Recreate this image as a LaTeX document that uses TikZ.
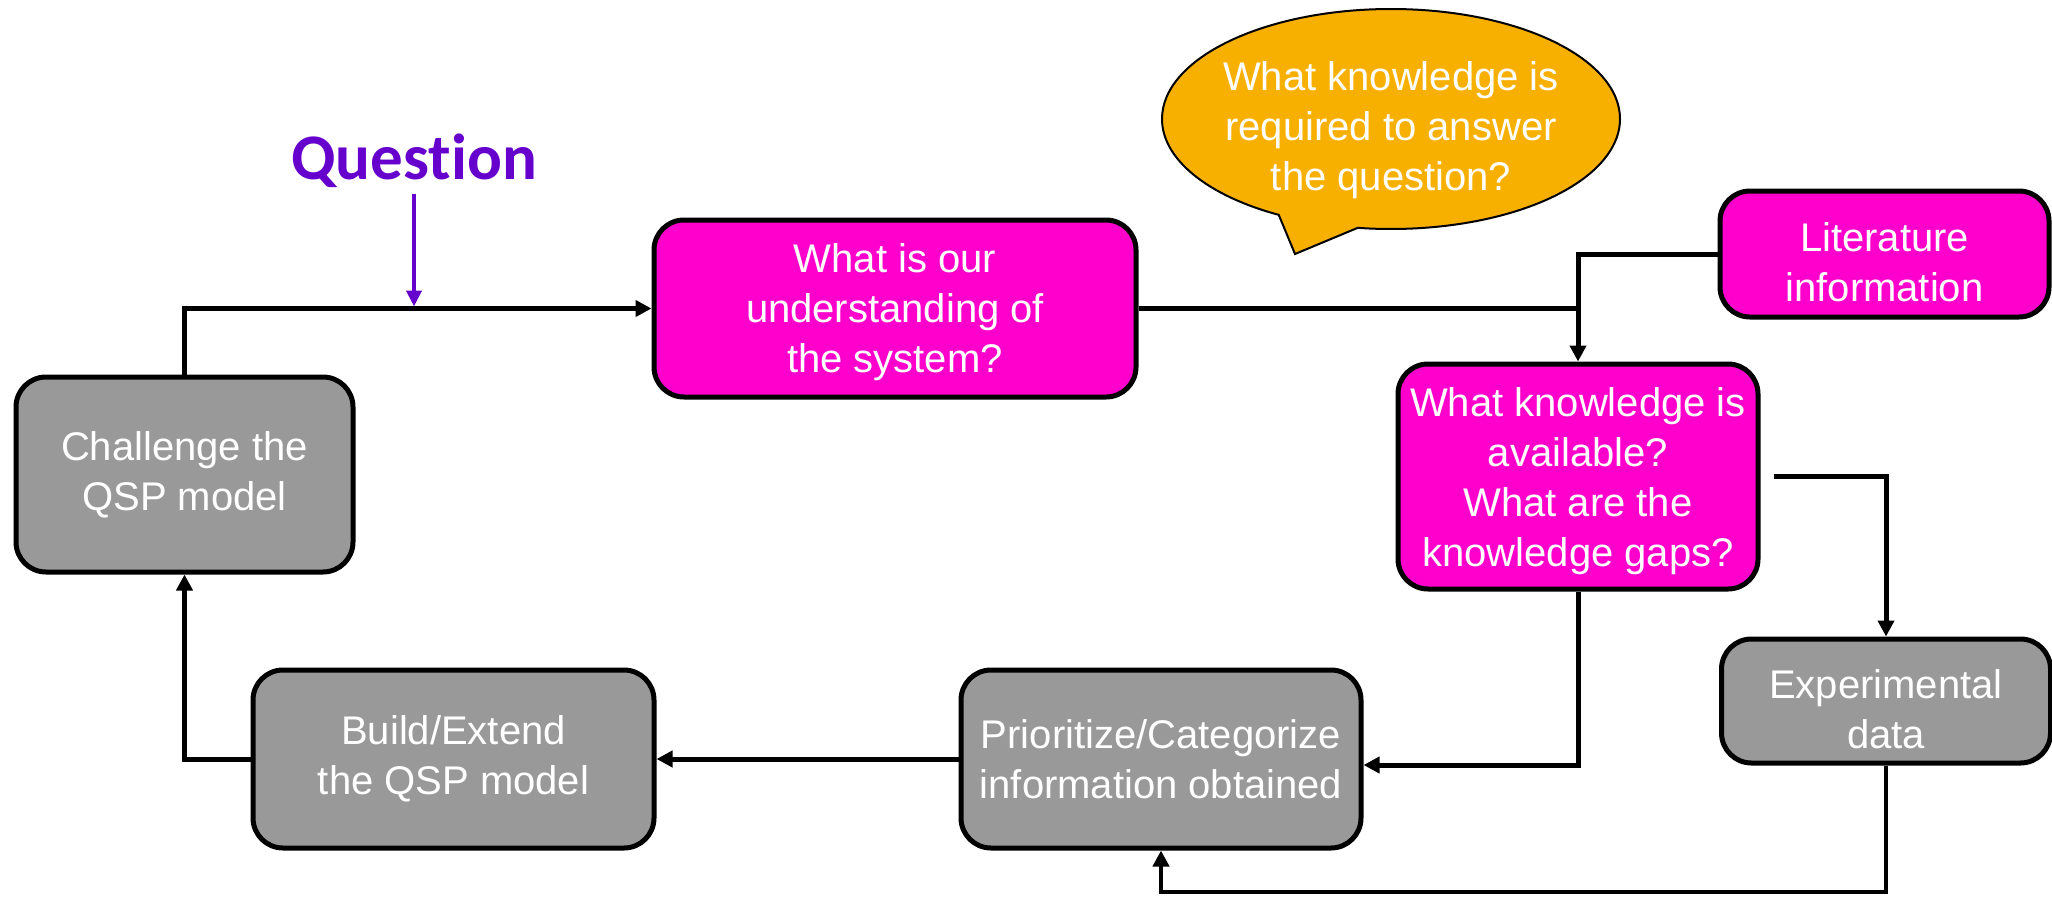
\documentclass[tikz,border=0pt]{standalone}
\usepackage{fontspec}
\setmainfont{Liberation Sans}
\newfontfamily\qfont[Ligatures={NoCommon,NoContextual}]{Carlito}
\usetikzlibrary{arrows.meta,shapes.callouts}
\definecolor{boxmagenta}{HTML}{FF00CC}
\definecolor{boxgray}{HTML}{999999}
\definecolor{bubble}{HTML}{F8B000}
\definecolor{qpurple}{HTML}{6600CC}
\begin{document}
\begin{tikzpicture}[x=1pt,y=-1pt,
  box/.style={draw=black, line width=5pt, rounded corners=30pt, inner sep=0pt},
  magbox/.style={box, fill=boxmagenta},
  graybox/.style={box, fill=boxgray},
  boxtext/.style={text=white, align=center, font=\fontsize{40}{50}\selectfont, inner sep=0pt},
  conn/.style={line width=5pt, draw=black},
  arr/.style={conn, -{Triangle[length=16pt,width=16pt]}},
  qarr/.style={line width=4pt, draw=qpurple, -{Triangle[length=16pt,width=15pt]}},
]
\useasboundingbox (0,0) rectangle (2052,897);

% process boxes
\node[graybox, minimum width=337pt, minimum height=195pt] (chal) at (184.5,474.5) {};
\node[magbox, minimum width=482pt, minimum height=177pt] (what) at (895,308.5) {};
\node[magbox, minimum width=329pt, minimum height=126pt] (lit) at (1884.5,254) {};
\node[magbox, minimum width=360pt, minimum height=225pt] (know) at (1578,476.5) {};
\node[graybox, minimum width=329pt, minimum height=124pt] (exp) at (1886,701) {};
\node[graybox, minimum width=400pt, minimum height=178pt] (prio) at (1161,759) {};
\node[graybox, minimum width=401pt, minimum height=178pt] (build) at (453.5,759) {};

% box captions
\node[boxtext] (chal-t) at (chal) {Challenge the\\QSP model};
\node[boxtext] (what-t) at ([yshift=-4pt]what.center) {What is our\\understanding of\\the system?};
\node[boxtext] (lit-t) at ([yshift=-8pt]lit.center) {Literature\\information};
\node[boxtext] (know-t) at ([yshift=-5pt]know.center) {What knowledge is\\available?\\What are the\\knowledge gaps?};
\node[boxtext] (exp-t) at ([yshift=-8pt]exp.center) {Experimental\\data};
\node[boxtext] (prio-t) at (prio) {Prioritize/Categorize\\information obtained};
\node[boxtext] (build-t) at (build) {Build/Extend\\the QSP model};

% speech bubble with its caption
\node[ellipse callout, draw=black, line width=2pt, fill=bubble,
  minimum width=458pt, minimum height=220pt, inner sep=0pt,
  callout absolute pointer={(1295,254)}, callout pointer arc=21] (bub) at (1391,119) {};
\node[boxtext] (bub-t) at (1391,130) {What knowledge is\\required to answer\\the question?};

% question label
\node[text=qpurple, font=\qfont\bfseries\fontsize{65}{72}\selectfont, anchor=base, inner sep=0pt] (q) at (414,179) {Question};

% connectors
\draw[arr] (chal.north) |- (what.west);
\draw[qarr] ([yshift=-15pt]q.base) -- ([yshift=2pt]q.base |- what.west);
\coordinate (j) at (know.north |- what.east);
\draw[arr] (what.east) -| (know.north);
\draw[conn] (lit.west) -| (j);
\coordinate (kx) at ([xshift=13pt]know.east);
\draw[arr] (kx) -| (exp.north);
\draw[arr] (know.south) |- ([yshift=-6pt]prio.east);
\coordinate (lb) at (0,892);
\draw[arr, line width=4.5pt] (exp.south) -- (exp.south |- lb) -| (prio.south);
\draw[arr] (prio.west) -- (build.east);
\draw[arr] (build.west) -| (chal.south);
\end{tikzpicture}
\end{document}
